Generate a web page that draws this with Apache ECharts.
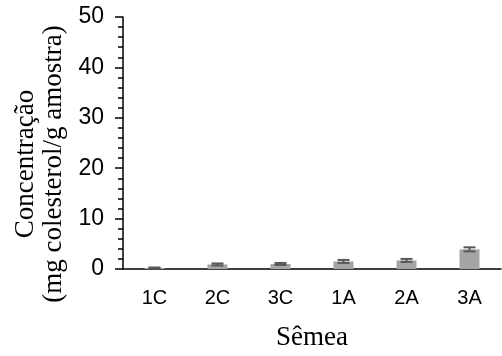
<!DOCTYPE html>
<html>
<head>
    <meta charset="utf-8">
    <title>Concentração por sêmea</title>
    <script src="https://cdn.jsdelivr.net/npm/echarts@6/dist/echarts.min.js"></script>
</head>
<body style="margin:0">
    <div id="main" style="width:502px;height:356px;"></div>
    <script type="text/javascript">
        // dados
        var amostras = ['1C', '2C', '3C', '1A', '2A', '3A'];
        var concentracao = [0.2, 0.9, 1.0, 1.5, 1.7, 3.9];
        var desvio = [0.1, 0.2, 0.2, 0.3, 0.3, 0.4];
        var yTicks = [0, 10, 20, 30, 40, 50];

        var myChart = echarts.init(document.getElementById('main'));

        // barras de erro: [indice, minimo, maximo]
        var erros = concentracao.map(function (v, i) {
            return [i, v - desvio[i], v + desvio[i]];
        });

        var option = {
            animation: false,
            grid: { left: 123, right: 1, top: 17, bottom: 85 },
            xAxis: {
                type: 'category',
                data: amostras,
                name: 'Sêmea',
                nameLocation: 'middle',
                nameGap: 55,
                nameTextStyle: { fontFamily: 'Liberation Serif', fontSize: 27, color: '#000' },
                axisLine: { lineStyle: { color: '#000', width: 1.5 } },
                axisTick: { length: 6, lineStyle: { color: '#000', width: 1.5 } },
                axisLabel: { fontFamily: 'Liberation Sans', fontSize: 20, color: '#000', margin: 19 }
            },
            yAxis: {
                type: 'value',
                min: yTicks[0],
                max: yTicks[yTicks.length - 1],
                interval: 10,
                axisLine: { show: true, lineStyle: { color: '#000', width: 1.5 } },
                axisTick: { show: true, length: 8, lineStyle: { color: '#000', width: 1.5 } },
                minorTick: { show: true, splitNumber: 5, length: 5, lineStyle: { color: '#000', width: 1.5 } },
                splitLine: { show: false },
                axisLabel: { fontFamily: 'Liberation Sans', fontSize: 23, color: '#000', margin: 19 }
            },
            graphic: [{
                type: 'text',
                x: 40,
                y: 164,
                rotation: Math.PI / 2,
                style: {
                    text: 'Concentração\n(mg colesterol/g amostra)',
                    font: '27px "Liberation Serif"',
                    fill: '#000',
                    align: 'center',
                    verticalAlign: 'middle',
                    lineHeight: 28
                }
            }],
            series: [{
                type: 'bar',
                data: concentracao,
                barWidth: 20,
                itemStyle: { color: '#a5a5a5' },
                z: 2
            }, {
                type: 'custom',
                data: erros,
                z: 3,
                renderItem: function (params, api) {
                    var x = api.coord([api.value(0), 0])[0];
                    var lo = api.coord([api.value(0), api.value(1)])[1];
                    var hi = api.coord([api.value(0), api.value(2)])[1];
                    var w = 6;
                    var st = { stroke: '#595959', lineWidth: 2 };
                    return {
                        type: 'group',
                        children: [
                            { type: 'line', shape: { x1: x, y1: lo, x2: x, y2: hi }, style: st },
                            { type: 'line', shape: { x1: x - w, y1: lo, x2: x + w, y2: lo }, style: st },
                            { type: 'line', shape: { x1: x - w, y1: hi, x2: x + w, y2: hi }, style: st }
                        ]
                    };
                }
            }]
        };
        myChart.setOption(option);
    </script>
</body>
</html>
